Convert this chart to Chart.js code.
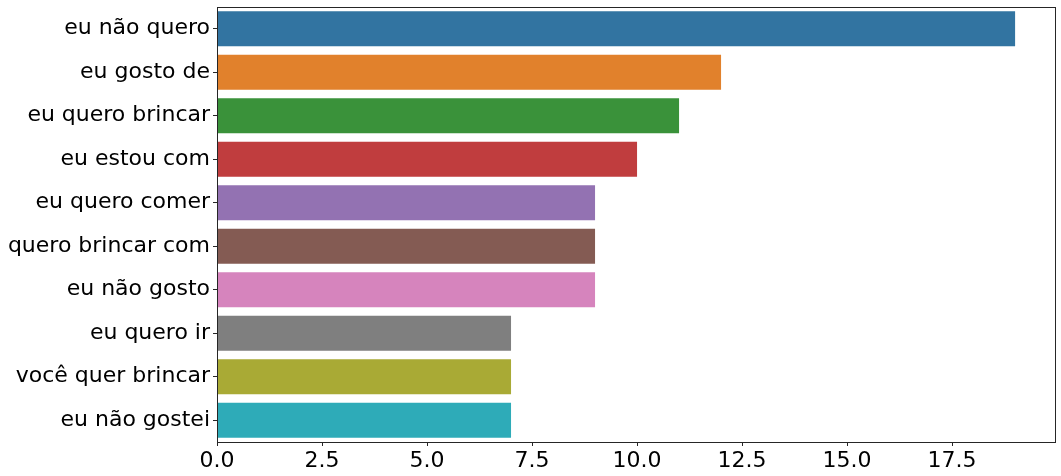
<!DOCTYPE html>
<html>
<head>
<meta charset="utf-8">
<script src="https://cdn.jsdelivr.net/npm/chart.js@4"></script>
<style>
html,body{margin:0;padding:0;background:#fff;}
#wrap{width:1061px;height:476px;position:relative;}
</style>
</head>
<body>
<div id="wrap"><canvas id="c" width="1061" height="476"></canvas></div>
<script>
const categories = ["eu não quero","eu gosto de","eu quero brincar","eu estou com","eu quero comer","quero brincar com","eu não gosto","eu quero ir","você quer brincar","eu não gostei"];
const counts = [19,12,11,10,9,9,9,7,7,7];
const barColors = ["#3274a1","#e1812c","#3a923a","#c03d3e","#9372b2","#845b53","#d684bd","#7f7f7f","#a9aa35","#2eabb8"];
const xTicks = [0,2.5,5,7.5,10,12.5,15,17.5];

const framePlugin = {
  id:'frame',
  afterDraw(chart){
    const a = chart.chartArea, ctx = chart.ctx;
    ctx.save();
    ctx.strokeStyle = '#262626';
    ctx.lineWidth = 1;
    ctx.strokeRect(Math.round(a.left)+0.5, Math.round(a.top)+0.5, Math.round(a.right-a.left), Math.round(a.bottom-a.top));
    ctx.restore();
  }
};

new Chart(document.getElementById('c'), {
  type:'bar',
  data:{labels:categories, datasets:[{data:counts, backgroundColor:barColors, borderWidth:0, categoryPercentage:0.8, barPercentage:1.0}]},
  options:{
    indexAxis:'y',
    responsive:false,
    animation:false,
    devicePixelRatio:1,
    layout:{padding:{left:0,right:6,top:7,bottom:0}},
    plugins:{legend:{display:false},tooltip:{enabled:false}},
    scales:{
      x:{
        min:0,max:19.95,
        afterBuildTicks(scale){ scale.ticks = xTicks.map(v=>({value:v})); },
        ticks:{color:'#000',font:{family:'DejaVu Sans',size:22},padding:2,maxRotation:0,callback:v=>Number(v).toFixed(1)},
        grid:{display:true,drawOnChartArea:false,drawTicks:true,tickLength:4,color:'#262626'},
        border:{display:false},
        afterFit(s){ s.height = 34; s.paddingLeft = 0; s.paddingRight = 0; }
      },
      y:{
        ticks:{color:'#000',font:{family:'DejaVu Sans',size:22},padding:3},
        grid:{display:true,offset:false,drawOnChartArea:false,drawTicks:true,tickLength:4,color:'#262626'},
        border:{display:false},
        afterFit(s){ s.width = 217; s.paddingTop = 0; s.paddingBottom = 0; }
      }
    }
  },
  plugins:[framePlugin]
});
</script>
</body>
</html>
